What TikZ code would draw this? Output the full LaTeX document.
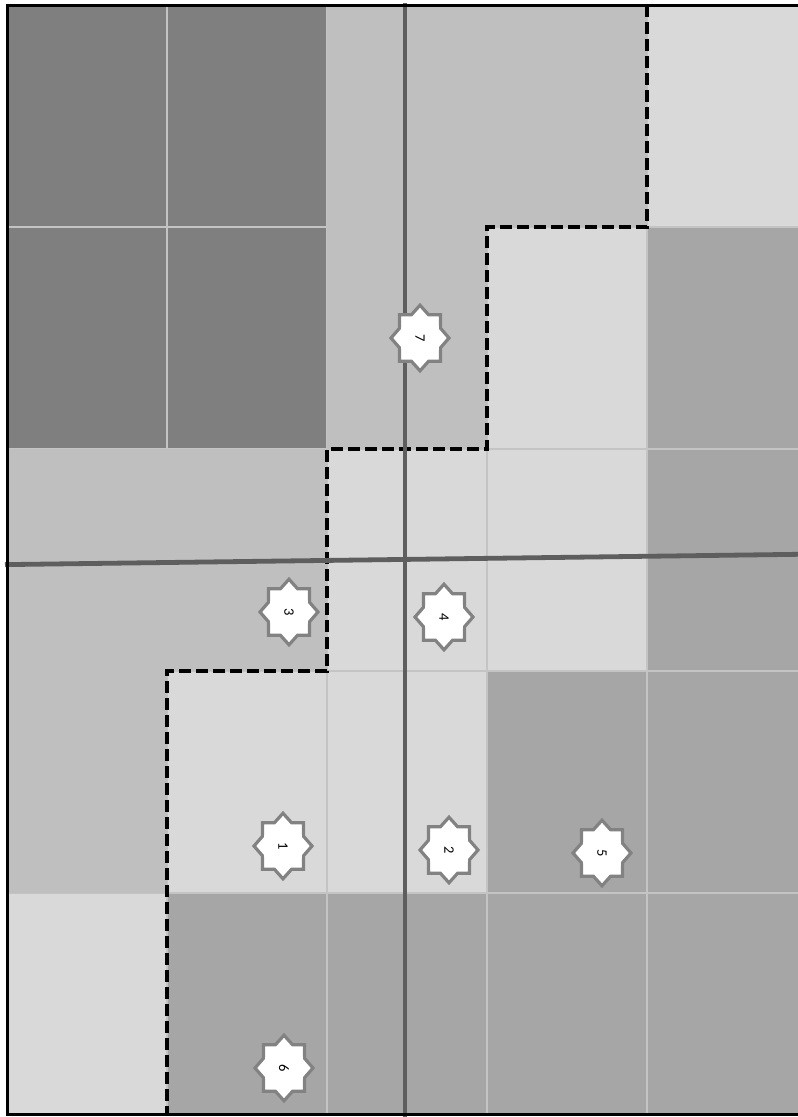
\documentclass[tikz,border=0pt]{standalone}
\usepackage{fontspec}
\newfontfamily\numfont{Carlito}
\usetikzlibrary{shapes.geometric}
\definecolor{cdark}{HTML}{7F7F7F}
\definecolor{cmid}{HTML}{BFBFBF}
\definecolor{clight}{HTML}{D9D9D9}
\definecolor{cgray}{HTML}{A6A6A6}
\definecolor{cgrid}{HTML}{C4C4C4}
\definecolor{caxis}{HTML}{5E5E5E}
\definecolor{cstar}{HTML}{828282}
\tikzset{
  gridline/.style={draw=cgrid, line width=1.4pt},
  axisline/.style={draw=caxis, line width=4.8pt},
  zoneline/.style={draw=black, line width=3.2pt, dash pattern=on 12pt off 5pt},
  framebox/.style={draw=black, line width=3pt},
  starbox/.style={star, star points=8, star point ratio=1.3, minimum size=58pt,
    inner sep=0pt, fill=white, draw=cstar, line width=3.2pt, line join=miter, yscale=1.13},
  numtext/.style={rotate=-90, font=\numfont\fontsize{14.5}{14.5}\selectfont, inner sep=0pt, text=black},
}
\newcommand{\cellfill}[3]{\fill[#3] ({7+160*#1},{5+222*#2}) rectangle ({167+160*#1},{227+222*#2});}
\begin{document}
\begin{tikzpicture}[x=1pt,y=-1pt]
\useasboundingbox (0,0) rectangle (798,1117);
\fill[white] (0,0) rectangle (798,1117);
\begin{scope}
\clip (0,0) rectangle (798,1117);
% row 0
\cellfill{0}{0}{cdark}\cellfill{1}{0}{cdark}\cellfill{2}{0}{cmid}\cellfill{3}{0}{cmid}\cellfill{4}{0}{clight}
% row 1
\cellfill{0}{1}{cdark}\cellfill{1}{1}{cdark}\cellfill{2}{1}{cmid}\cellfill{3}{1}{clight}\cellfill{4}{1}{cgray}
% row 2
\cellfill{0}{2}{cmid}\cellfill{1}{2}{cmid}\cellfill{2}{2}{clight}\cellfill{3}{2}{clight}\cellfill{4}{2}{cgray}
% row 3
\cellfill{0}{3}{cmid}\cellfill{1}{3}{clight}\cellfill{2}{3}{clight}\cellfill{3}{3}{cgray}\cellfill{4}{3}{cgray}
% row 4
\cellfill{0}{4}{clight}\cellfill{1}{4}{cgray}\cellfill{2}{4}{cgray}\cellfill{3}{4}{cgray}\cellfill{4}{4}{cgray}
% grid lines
\foreach \gx in {167,327,487,647} {\draw[gridline] (\gx,5) -- (\gx,1115);}
\foreach \gy in {227,449,671,893} {\draw[gridline] (7,\gy) -- (807,\gy);}
% mid-zone (no internal lines)
\fill[cmid] (327,5) -- (647,5) -- (647,227) -- (487,227) -- (487,449) -- (327,449) -- cycle;
\fill[cmid] (7,449) -- (327,449) -- (327,671) -- (167,671) -- (167,893) -- (7,893) -- cycle;
% dashed zone boundary
\coordinate (d0) at (647,5);
\coordinate (d1) at (647,227);
\coordinate (d2) at (487,227);
\coordinate (d3) at (487,449);
\coordinate (d4) at (327,449);
\coordinate (d5) at (327,671);
\coordinate (d6) at (167,671);
\coordinate (d7) at (167,1115);
\draw[zoneline] (d0) -- (d1) -- (d2) -- (d3) -- (d4) -- (d5) -- (d6) -- (d7);
% axes
\coordinate (vT) at (405,3);
\coordinate (vB) at (405,1117);
\coordinate (hL) at (5,564.6);
\coordinate (hR) at (807,554.2);
\draw[axisline] (vT) -- (vB);
\draw[axisline] (hL) -- (hR);
% frame
\draw[framebox] (7.5,5.3) rectangle (807,1114.5);
\end{scope}
% stars
\node[starbox] (s1) at (283,846) {};
\node[numtext] (t1) at (s1) {1};
\node[starbox] (s2) at (449,850) {};
\node[numtext] (t2) at (s2) {2};
\node[starbox] (s3) at (289,612) {};
\node[numtext] (t3) at (s3) {3};
\node[starbox] (s4) at (444,617) {};
\node[numtext] (t4) at (s4) {4};
\node[starbox] (s5) at (602,853) {};
\node[numtext] (t5) at (s5) {5};
\node[starbox] (s6) at (284,1068) {};
\node[numtext] (t6) at (s6) {6};
\node[starbox] (s7) at (420,338) {};
\node[numtext] (t7) at (s7) {7};
\end{tikzpicture}
\end{document}
